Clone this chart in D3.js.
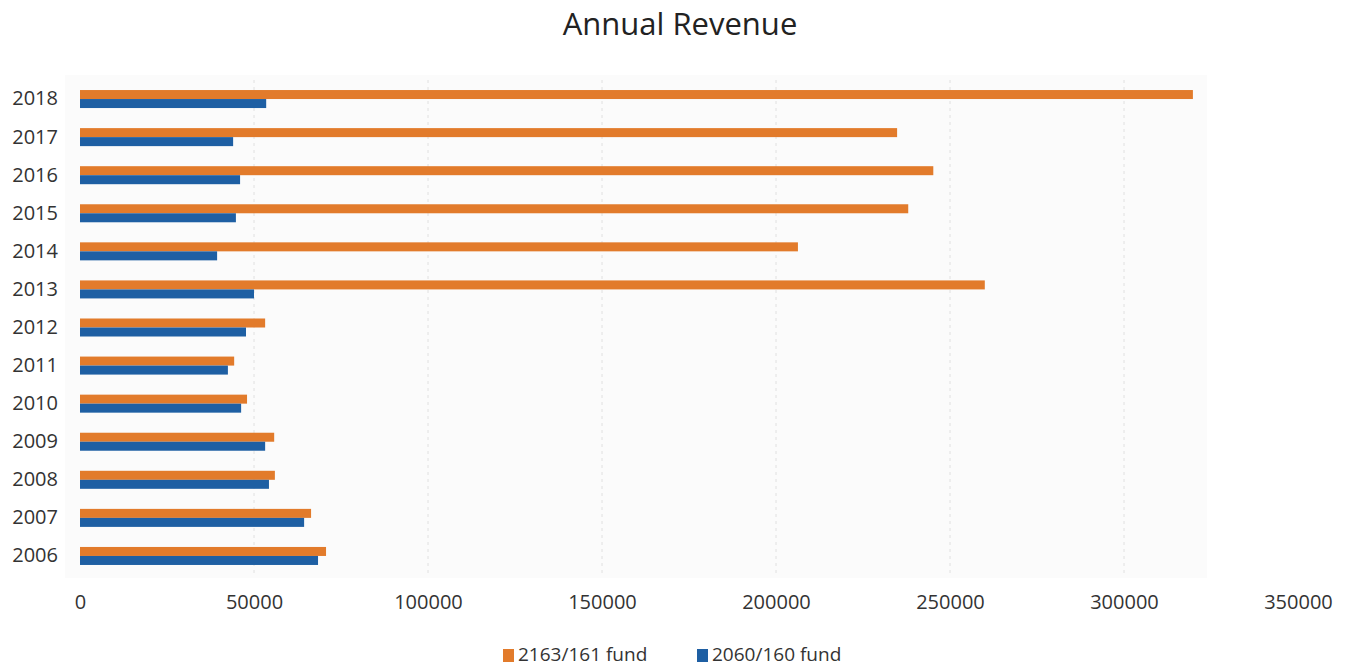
<!DOCTYPE html>
<meta charset="utf-8">
<html>
	<head>
		<title>Annual Revenue</title>
		<script src="https://d3js.org/d3.v7.min.js"></script>
		<style>
			body { margin: 0; background: #fff; }
			text { font-family: "Open Sans", "Liberation Sans", sans-serif; fill: #333; }
		</style>
	</head>
	<body>
		<div id="chart"></div>
		<script>
			// data
			var years = ["2006", "2007", "2008", "2009", "2010", "2011", "2012", "2013", "2014", "2015", "2016", "2017", "2018"];
			var fund161 = [70700, 66400, 56000, 55800, 48000, 44300, 53200, 260000, 206300, 238000, 245200, 234800, 319800];
			var fund160 = [68400, 64400, 54300, 53200, 46300, 42500, 47700, 50000, 39400, 44800, 46000, 44000, 53500];
			var seriesNames = ["2163/161 fund", "2060/160 fund"];
			var colors = ["#e27b2b", "#1e5fa3"];
			var xTicks = [0, 50000, 100000, 150000, 200000, 250000, 300000, 350000];

			var width = 1346, height = 668;
			var svg = d3.select("#chart").append("svg")
				.attr("width", width)
				.attr("height", height);

			var x = d3.scaleLinear().domain([0, 350000]).range([80, 1298]);
			var y = d3.scaleBand()
				.domain(years.slice().reverse())
				.range([80, 575])
				.paddingInner(0.527)
				.paddingOuter(0.2635);
			var y1 = d3.scaleBand().domain([0, 1]).range([0, y.bandwidth()]);

			// plot area background
			svg.append("rect")
				.attr("x", 65).attr("y", 75)
				.attr("width", 1142).attr("height", 503)
				.attr("fill", "#fbfbfb");

			// title
			svg.append("text")
				.attr("x", 680).attr("y", 35)
				.attr("text-anchor", "middle")
				.style("font-size", "31px")
				.style("fill", "#222")
				.text("Annual Revenue");

			// grid lines
			svg.append("g").selectAll("line")
				.data(xTicks.filter(function(d) { return d > 0 && d < 350000; }))
				.enter().append("line")
				.attr("x1", function(d) { return x(d); })
				.attr("x2", function(d) { return x(d); })
				.attr("y1", 80).attr("y2", 575)
				.attr("stroke", "#e0e0e0")
				.attr("stroke-dasharray", "3,4");

			// bars
			var rows = years.map(function(yr, i) { return {year: yr, vals: [fund161[i], fund160[i]]}; });
			var group = svg.append("g").selectAll("g")
				.data(rows)
				.enter().append("g")
				.attr("transform", function(d) { return "translate(0," + y(d.year) + ")"; });

			group.selectAll("rect")
				.data(function(d) { return d.vals; })
				.enter().append("rect")
				.attr("x", x(0))
				.attr("y", function(d, i) { return y1(i); })
				.attr("height", y1.bandwidth())
				.attr("width", function(d) { return x(d) - x(0); })
				.attr("fill", function(d, i) { return colors[i]; });

			// x axis labels
			var xAxis = svg.append("g")
				.attr("transform", "translate(0,575)")
				.call(d3.axisBottom(x).tickValues(xTicks).tickFormat(d3.format("d")).tickSize(0).tickPadding(20));
			xAxis.select(".domain").remove();
			xAxis.selectAll("text").style("font-size", "20px").attr("fill", "#333");

			// y axis labels
			var yAxis = svg.append("g")
				.attr("transform", "translate(60,0)")
				.call(d3.axisLeft(y).tickSize(0).tickPadding(2));
			yAxis.select(".domain").remove();
			yAxis.selectAll("text").style("font-size", "20px").attr("fill", "#333");

			// legend
			var legend = svg.append("g").attr("transform", "translate(503,654)");
			var items = legend.selectAll("g")
				.data(seriesNames)
				.enter().append("g")
				.attr("transform", function(d, i) { return "translate(" + (i * 194) + ",0)"; });
			items.append("rect")
				.attr("x", 0).attr("y", -5)
				.attr("width", 11).attr("height", 13)
				.attr("fill", function(d, i) { return colors[i]; });
			items.append("text")
				.attr("x", 15).attr("y", 0)
				.attr("dy", "0.35em")
				.style("font-size", "19px")
				.text(function(d) { return d; });
		</script>
	</body>
</html>
